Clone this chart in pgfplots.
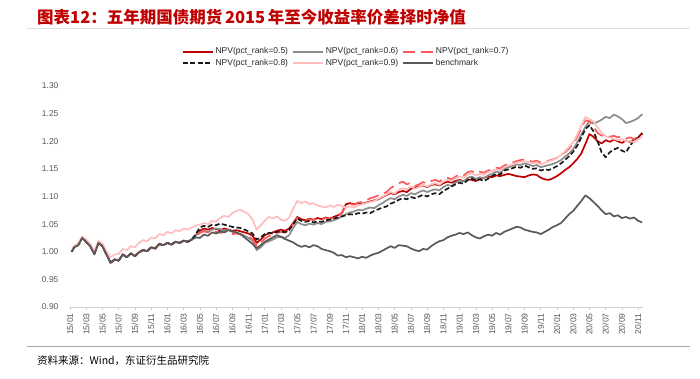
\documentclass[border=0pt]{standalone}
\usepackage{pgfplots}
\pgfplotsset{compat=1.18}
\usepackage{pgfplotstable}
\usepackage{fontspec}
\setmainfont{Liberation Sans}
\newfontfamily\cjk{Noto Sans CJK SC}
\definecolor{c5}{HTML}{C00000}
\definecolor{c6}{HTML}{8C8C8C}
\definecolor{c7}{HTML}{FF5A5A}
\definecolor{c8}{HTML}{1A1A1A}
\definecolor{c9}{HTML}{FFBDBD}
\definecolor{cb}{HTML}{595959}
\definecolor{tred}{HTML}{C00000}
\definecolor{tickc}{HTML}{595959}

\pgfplotstableread{
m bm s5 s6 s7 s8 s9
0.2 1.000 1.000 1.000 1.000 1.000 1.002
0.5 1.008 1.008 1.008 1.008 1.008 1.011
1.0 1.012 1.012 1.012 1.012 1.012 1.015
1.5 1.025 1.025 1.025 1.025 1.025 1.028
2.0 1.018 1.018 1.018 1.018 1.018 1.022
2.5 1.010 1.010 1.010 1.010 1.010 1.014
3.0 0.996 0.996 0.996 0.996 0.996 1.001
3.5 1.016 1.016 1.016 1.016 1.016 1.020
4.0 1.010 1.010 1.010 1.010 1.010 1.015
4.5 0.995 0.995 0.995 0.995 0.995 1.001
5.0 0.980 0.980 0.980 0.980 0.980 0.990
5.5 0.986 0.986 0.986 0.986 0.986 0.995
6.0 0.984 0.984 0.984 0.984 0.984 0.996
6.5 0.995 0.995 0.995 0.995 0.995 1.005
7.0 0.990 0.990 0.990 0.990 0.990 1.003
7.5 0.997 0.997 0.997 0.997 0.997 1.010
8.0 0.992 0.992 0.992 0.992 0.992 1.008
8.5 0.999 0.999 0.999 0.999 0.999 1.016
9.0 1.003 1.003 1.003 1.003 1.003 1.021
9.5 1.001 1.001 1.001 1.001 1.001 1.019
10.0 1.008 1.008 1.008 1.008 1.008 1.026
10.5 1.006 1.006 1.006 1.006 1.006 1.024
11.0 1.014 1.014 1.014 1.014 1.014 1.032
11.5 1.012 1.012 1.012 1.012 1.012 1.030
12.0 1.016 1.016 1.016 1.016 1.016 1.036
12.5 1.013 1.013 1.013 1.013 1.013 1.033
13.0 1.018 1.018 1.018 1.018 1.018 1.039
13.5 1.016 1.016 1.016 1.016 1.016 1.037
14.0 1.020 1.020 1.020 1.020 1.020 1.042
14.5 1.018 1.018 1.018 1.018 1.018 1.040
15.0 1.022 1.022 1.022 1.022 1.022 1.044
15.5 1.026 1.030 1.030 1.028 1.032 1.047
16.0 1.025 1.038 1.035 1.034 1.044 1.049
16.5 1.031 1.042 1.038 1.037 1.047 1.052
17.0 1.029 1.040 1.036 1.035 1.045 1.050
17.5 1.035 1.043 1.040 1.038 1.049 1.056
18.0 1.033 1.041 1.042 1.036 1.048 1.054
18.5 1.037 1.039 1.041 1.034 1.051 1.061
19.0 1.035 1.042 1.038 1.036 1.049 1.065
19.5 1.039 1.040 1.040 1.034 1.047 1.063
20.0 1.037 1.038 1.036 1.032 1.045 1.070
20.5 1.035 1.039 1.034 1.033 1.044 1.074
21.0 1.032 1.037 1.032 1.031 1.043 1.076
21.5 1.026 1.035 1.029 1.029 1.040 1.072
22.0 1.020 1.033 1.025 1.027 1.037 1.068
22.5 1.014 1.029 1.020 1.023 1.033 1.058
23.0 1.006 1.016 1.003 1.010 1.022 1.040
23.5 1.012 1.022 1.008 1.016 1.026 1.048
24.0 1.018 1.030 1.016 1.024 1.032 1.056
24.5 1.022 1.033 1.019 1.028 1.034 1.063
25.0 1.026 1.035 1.022 1.031 1.033 1.060
25.5 1.030 1.038 1.026 1.034 1.036 1.064
26.0 1.027 1.040 1.027 1.036 1.037 1.058
26.5 1.023 1.038 1.025 1.035 1.035 1.056
27.0 1.020 1.042 1.030 1.040 1.039 1.062
27.5 1.017 1.052 1.043 1.050 1.050 1.078
28.0 1.012 1.063 1.054 1.061 1.060 1.092
28.5 1.009 1.059 1.050 1.058 1.056 1.088
29.0 1.011 1.057 1.048 1.056 1.054 1.091
29.5 1.008 1.060 1.051 1.059 1.056 1.086
30.0 1.012 1.058 1.049 1.057 1.053 1.088
30.5 1.010 1.061 1.052 1.060 1.055 1.084
31.0 1.005 1.059 1.050 1.058 1.054 1.082
31.5 1.003 1.062 1.054 1.061 1.057 1.080
32.0 1.001 1.060 1.055 1.059 1.058 1.084
32.5 0.998 1.063 1.057 1.062 1.060 1.081
33.0 0.993 1.066 1.060 1.065 1.062 1.085
33.5 0.994 1.070 1.064 1.069 1.064 1.083
34.0 0.990 1.086 1.068 1.084 1.066 1.080
34.5 0.992 1.088 1.071 1.087 1.068 1.082
35.0 0.990 1.086 1.073 1.085 1.067 1.080
35.5 0.988 1.088 1.076 1.089 1.070 1.084
36.0 0.991 1.087 1.075 1.090 1.069 1.086
36.5 0.989 1.089 1.078 1.093 1.071 1.088
37.0 0.993 1.091 1.080 1.097 1.070 1.090
37.5 0.996 1.093 1.079 1.099 1.074 1.092
38.0 0.998 1.095 1.084 1.102 1.077 1.096
38.5 1.002 1.099 1.088 1.105 1.080 1.100
39.0 1.006 1.103 1.093 1.108 1.082 1.104
39.5 1.010 1.106 1.097 1.115 1.087 1.108
40.0 1.007 1.104 1.095 1.120 1.090 1.105
40.5 1.012 1.108 1.100 1.124 1.094 1.112
41.0 1.011 1.110 1.103 1.127 1.097 1.115
41.5 1.010 1.108 1.101 1.122 1.095 1.113
42.0 1.006 1.114 1.106 1.125 1.099 1.118
42.5 1.003 1.116 1.104 1.119 1.097 1.114
43.0 1.001 1.118 1.108 1.122 1.100 1.117
43.5 1.005 1.120 1.111 1.126 1.103 1.121
44.0 1.004 1.117 1.108 1.124 1.100 1.118
44.5 1.010 1.121 1.111 1.128 1.104 1.122
45.0 1.015 1.122 1.113 1.130 1.106 1.124
45.5 1.019 1.120 1.111 1.127 1.104 1.121
46.0 1.021 1.124 1.117 1.132 1.110 1.127
46.5 1.026 1.127 1.121 1.134 1.114 1.130
47.0 1.029 1.125 1.119 1.131 1.118 1.128
47.5 1.031 1.128 1.125 1.136 1.122 1.133
48.0 1.034 1.130 1.129 1.140 1.125 1.136
48.5 1.032 1.128 1.127 1.138 1.123 1.134
49.0 1.035 1.131 1.134 1.144 1.130 1.140
49.5 1.030 1.130 1.136 1.146 1.133 1.142
50.0 1.026 1.128 1.132 1.142 1.129 1.138
50.5 1.024 1.132 1.135 1.145 1.131 1.141
51.0 1.028 1.134 1.133 1.143 1.128 1.139
51.5 1.031 1.136 1.138 1.147 1.132 1.144
52.0 1.029 1.135 1.141 1.149 1.137 1.146
52.5 1.034 1.138 1.145 1.152 1.141 1.149
53.0 1.031 1.137 1.143 1.151 1.140 1.147
53.5 1.036 1.139 1.150 1.156 1.147 1.153
54.0 1.039 1.141 1.153 1.159 1.149 1.156
54.5 1.042 1.139 1.155 1.161 1.151 1.158
55.0 1.045 1.137 1.158 1.164 1.154 1.161
55.5 1.044 1.136 1.157 1.166 1.152 1.163
56.0 1.040 1.135 1.160 1.167 1.156 1.164
56.5 1.038 1.138 1.158 1.165 1.153 1.162
57.0 1.036 1.140 1.155 1.163 1.150 1.160
57.5 1.035 1.139 1.157 1.165 1.151 1.162
58.0 1.032 1.134 1.153 1.161 1.147 1.158
58.5 1.036 1.131 1.155 1.163 1.149 1.161
59.0 1.040 1.130 1.157 1.165 1.148 1.164
59.5 1.045 1.133 1.159 1.167 1.151 1.166
60.0 1.048 1.137 1.162 1.170 1.155 1.170
60.5 1.052 1.142 1.166 1.174 1.160 1.175
61.0 1.060 1.148 1.172 1.180 1.166 1.182
61.5 1.068 1.153 1.178 1.187 1.173 1.190
62.0 1.074 1.160 1.186 1.195 1.181 1.198
62.5 1.083 1.168 1.198 1.208 1.192 1.212
63.0 1.092 1.178 1.212 1.224 1.207 1.228
63.5 1.102 1.195 1.226 1.238 1.222 1.244
64.0 1.097 1.213 1.236 1.236 1.229 1.240
64.5 1.090 1.208 1.232 1.226 1.218 1.236
65.0 1.083 1.200 1.235 1.215 1.200 1.225
65.5 1.075 1.196 1.239 1.210 1.180 1.215
66.0 1.068 1.202 1.244 1.212 1.171 1.209
66.5 1.070 1.199 1.242 1.208 1.180 1.207
67.0 1.064 1.203 1.248 1.210 1.185 1.204
67.5 1.066 1.200 1.245 1.207 1.188 1.202
68.0 1.061 1.197 1.240 1.209 1.183 1.204
68.5 1.063 1.201 1.233 1.205 1.180 1.200
69.0 1.060 1.199 1.235 1.207 1.192 1.201
69.5 1.062 1.203 1.238 1.204 1.201 1.198
70.0 1.056 1.207 1.242 1.208 1.205 1.204
70.5 1.053 1.215 1.249 1.212 1.214 1.208
}\data

\begin{document}
\begin{tikzpicture}[x=1pt,y=1pt]
\useasboundingbox (0,0) rectangle (700,379);
\node[anchor=west, text=tred, inner sep=0pt] at (37,361.5)
  {\cjk\bfseries\fontsize{16.5}{18}\selectfont 图表12：五年期国债期货\,2015\,年至今收益率价差择时净值};
\draw[gray!25, line width=0.6pt] (27,351) -- (690,351);
\draw[gray!70, line width=0.8pt] (27,33) -- (690,33);
\node[anchor=west, inner sep=0pt] at (37,18)
  {\cjk\fontsize{10.5}{12}\selectfont 资料来源：Wind，东证衍生品研究院};
\begin{axis}[
  scale only axis, width=573pt, height=221pt,
  at={(70pt,72pt)}, anchor=south west,
  xmin=0, xmax=70.6, ymin=0.9, ymax=1.3,
  axis x line*=bottom, axis y line*=left,
  y axis line style={draw=none},
  x axis line style={draw=gray!35, line width=0.8pt},
  xtick={0,2,...,70},
  xticklabels={15/01,15/03,15/05,15/07,15/09,15/11,16/01,16/03,16/05,16/07,16/09,16/11,17/01,17/03,17/05,17/07,17/09,17/11,18/01,18/03,18/05,18/07,18/09,18/11,19/01,19/03,19/05,19/07,19/09,19/11,20/01,20/03,20/05,20/07,20/09,20/11},
  ytick={0.90,0.95,1.00,1.05,1.10,1.15,1.20,1.25,1.30},
  /pgf/number format/fixed,
  /pgf/number format/fixed zerofill,
  /pgf/number format/precision=2,
  /pgf/number format/assume math mode=true,
  ticklabel style={font=\fontsize{8.5}{9}\selectfont, text=tickc},
  xticklabel style={rotate=90, anchor=east},
  yticklabel style={xshift=-5pt},
  tick align=outside, major tick length=3pt,
  xtick style={draw=gray!40, line width=0.6pt},
  ytick style={draw=none},
  legend columns=3,
  legend cell align=left,
  legend style={draw=none, fill=none, at={(0.482,1.129)}, anchor=center,
    font=\fontsize{8.5}{10}\selectfont, text=black!85,
    /tikz/every even column/.append style={column sep=2pt}},
  legend image code/.code={\draw[#1] (0pt,0pt) -- (30pt,0pt);},
  every axis plot/.append style={mark=none, line join=round},
]
\addplot[c5, line width=1.7pt] table[x=m,y=s5]{\data};
\addlegendentry{NPV(pct\_rank=0.5)}
\addplot[c6, line width=1.7pt] table[x=m,y=s6]{\data};
\addlegendentry{NPV(pct\_rank=0.6)}
\addplot[c7, line width=1.7pt, dash pattern=on 12pt off 6pt] table[x=m,y=s7]{\data};
\addlegendentry{NPV(pct\_rank=0.7)}
\addplot[c8, line width=1.7pt, dash pattern=on 5pt off 2.5pt] table[x=m,y=s8]{\data};
\addlegendentry{NPV(pct\_rank=0.8)}
\addplot[c9, line width=1.7pt] table[x=m,y=s9]{\data};
\addlegendentry{NPV(pct\_rank=0.9)}
\addplot[cb, line width=1.7pt] table[x=m,y=bm]{\data};
\addlegendentry{benchmark}
\end{axis}
\end{tikzpicture}
\end{document}
